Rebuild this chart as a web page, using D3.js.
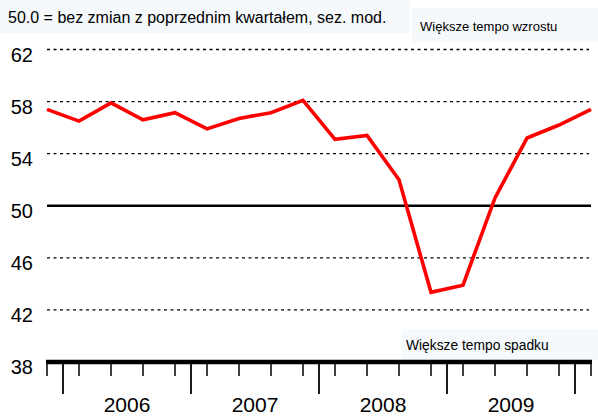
<!DOCTYPE html>
<meta charset="utf-8">
<script src="https://d3js.org/d3.v7.min.js"></script>
<style>
  body { margin: 0; background: #fff; }
  .narrow { font-family: "Liberation Sans Narrow", "Arial Narrow", "Liberation Sans", sans-serif; }
  .plain { font-family: "Liberation Sans", Arial, sans-serif; }
</style>
<div id="my_viz"></div>
<script>

// quarters from IV 2005 to I 2010
var quarters = ["IV05", "I06", "II06", "III06", "IV06", "I07", "II07", "III07", "IV07",
                "I08", "II08", "III08", "IV08", "I09", "II09", "III09", "IV09", "I10"];
var values = [57.4, 56.5, 57.9, 56.6, 57.15, 55.9, 56.7, 57.15, 58.1,
              55.1, 55.4, 52.0, 43.35, 43.9, 50.6, 55.2, 56.2, 57.4];
var years = ["2006", "2007", "2008", "2009"];
var yTicks = [38, 42, 46, 50, 54, 58, 62];

var width = 598, height = 416;

var svg = d3.select("#my_viz")
  .append("svg")
    .attr("width", width)
    .attr("height", height);

var x = d3.scalePoint()
  .domain(quarters)
  .range([47, 591]);

var y = d3.scaleLinear()
  .domain([38, 62])
  .range([362, 49.5]);

// light label boxes
svg.append("rect")
  .attr("x", 0).attr("y", 0).attr("width", 410).attr("height", 33)
  .style("fill", "#f6f9fb");
svg.append("rect")
  .attr("x", 412).attr("y", 8).attr("width", 186).attr("height", 34)
  .style("fill", "#f6f9fb");
svg.append("rect")
  .attr("x", 402).attr("y", 329).attr("width", 196).attr("height", 31)
  .style("fill", "#f6f9fb");

svg.append("text")
  .attr("class", "plain")
  .attr("x", 8).attr("y", 23)
  .style("font-size", "16px")
  .text("50.0 = bez zmian z poprzednim kwartałem, sez. mod.");

svg.append("text")
  .attr("class", "plain")
  .attr("x", 420).attr("y", 31)
  .style("font-size", "13px")
  .text("Większe tempo wzrostu");

svg.append("text")
  .attr("class", "plain")
  .attr("x", 406).attr("y", 350)
  .style("font-size", "13.8px")
  .text("Większe tempo spadku");

// gridlines
svg.append("g")
  .selectAll("line")
  .data(yTicks.filter(function(d){ return d != 38 && d != 50 }))
  .enter()
  .append("line")
    .attr("x1", x.range()[0]).attr("x2", 589)
    .attr("y1", function(d){ return y(d) })
    .attr("y2", function(d){ return y(d) })
    .style("stroke", "#000")
    .style("stroke-width", 1.4)
    .style("stroke-dasharray", "3,3.5");

// 50 line
svg.append("line")
  .attr("x1", x.range()[0]).attr("x2", x.range()[1])
  .attr("y1", y(50)).attr("y2", y(50))
  .style("stroke", "#000")
  .style("stroke-width", 2.7);

// Y labels
svg.append("g")
  .selectAll("text")
  .data(yTicks)
  .enter()
  .append("text")
    .attr("class", "narrow")
    .attr("x", 33)
    .attr("y", function(d){ return y(d) + 12 })
    .attr("text-anchor", "end")
    .style("font-size", "20px")
    .text(function(d){ return d });

// X axis
svg.append("line")
  .attr("x1", x.range()[0] - 1).attr("x2", x.range()[1] + 1)
  .attr("y1", y(38)).attr("y2", y(38))
  .style("stroke", "#000")
  .style("stroke-width", 4.5);

svg.append("g")
  .selectAll("line")
  .data(quarters)
  .enter()
  .append("line")
    .attr("x1", function(d){ return x(d) })
    .attr("x2", function(d){ return x(d) })
    .attr("y1", y(38)).attr("y2", y(38) + 14)
    .style("stroke", "#000")
    .style("stroke-width", 1.5);

// year boundaries: half way between IV and I
var step = x.step();
var bounds = quarters.filter(function(d){ return d.indexOf("IV") == 0 });
svg.append("g")
  .selectAll("line")
  .data(bounds)
  .enter()
  .append("line")
    .attr("x1", function(d){ return x(d) + step / 2 })
    .attr("x2", function(d){ return x(d) + step / 2 })
    .attr("y1", y(38)).attr("y2", y(38) + 32)
    .style("stroke", "#000")
    .style("stroke-width", 1.8);

svg.append("g")
  .selectAll("text")
  .data(years)
  .enter()
  .append("text")
    .attr("class", "narrow")
    .attr("x", function(d){ return (x("I" + d.slice(2)) + x("IV" + d.slice(2))) / 2 })
    .attr("y", 412)
    .attr("text-anchor", "middle")
    .style("font-size", "21px")
    .text(function(d){ return d });

// series
var line = d3.line()
  .x(function(d, i){ return x(quarters[i]) })
  .y(function(d){ return y(d) });

svg.append("path")
  .datum(values)
  .attr("d", line)
  .style("fill", "none")
  .style("stroke", "#ff0000")
  .style("stroke-width", 3.6)
  .style("stroke-linejoin", "miter");

</script>
